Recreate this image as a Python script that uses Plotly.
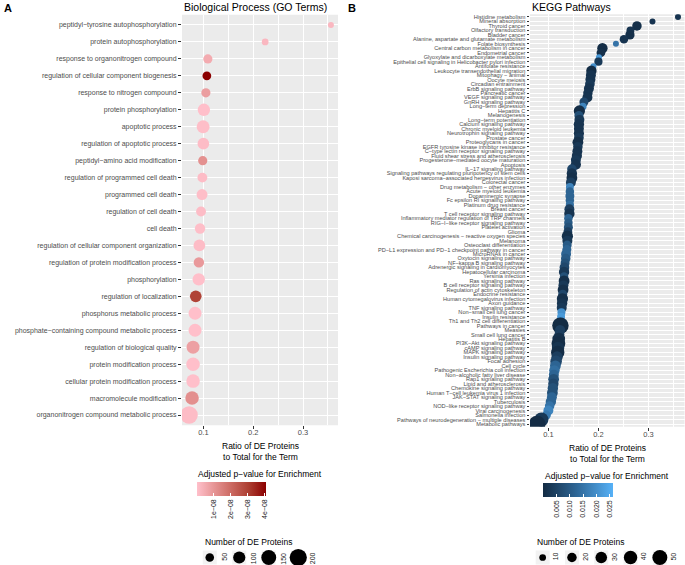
import plotly.graph_objects as go

W, H = 685, 565

# ---------------- Panel A data (GO Biological Process) ----------------
go_terms = [
    "peptidyl−tyrosine autophosphorylation",
    "protein autophosphorylation",
    "response to organonitrogen compound",
    "regulation of cellular component biogenesis",
    "response to nitrogen compound",
    "protein phosphorylation",
    "apoptotic process",
    "regulation of apoptotic process",
    "peptidyl−amino acid modification",
    "regulation of programmed cell death",
    "programmed cell death",
    "regulation of cell death",
    "cell death",
    "regulation of cellular component organization",
    "regulation of protein modification process",
    "phosphorylation",
    "regulation of localization",
    "phosphorus metabolic process",
    "phosphate−containing compound metabolic process",
    "regulation of biological quality",
    "protein modification process",
    "cellular protein modification process",
    "macromolecule modification",
    "organonitrogen compound metabolic process",
]
go_ratio = [0.356, 0.224, 0.109, 0.107, 0.105, 0.101, 0.0995, 0.100, 0.0987,
            0.098, 0.0973, 0.0953, 0.0933, 0.092, 0.091, 0.0907, 0.0847,
            0.0833, 0.0833, 0.0793, 0.0793, 0.0793, 0.0773, 0.0713]
go_count = [3, 31, 57, 52, 57, 103, 113, 92, 57, 65, 80, 65, 73, 92, 73, 103,
            92, 113, 113, 113, 123, 123, 123, 205]
go_padj = [0.2e-8, 0.2e-8, 0.5e-8, 4.1e-8, 0.8e-8, 0.02e-8, 0.05e-8, 0.1e-8,
           1.1e-8, 0.1e-8, 0.05e-8, 0.1e-8, 0.05e-8, 0.1e-8, 0.9e-8, 0.02e-8,
           2.95e-8, 0.02e-8, 0.02e-8, 0.75e-8, 0.02e-8, 0.02e-8, 1.15e-8, 0.1e-8]

# ---------------- Panel B data (KEGG) ----------------
kegg_terms = [
    "Histidine metabolism", "Mineral absorption", "Thyroid cancer",
    "Olfactory transduction", "Bladder cancer",
    "Alanine, aspartate and glutamate metabolism", "Folate biosynthesis",
    "Central carbon metabolism in cancer", "Endometrial cancer",
    "Glyoxylate and dicarboxylate metabolism",
    "Epithelial cell signaling in Helicobacter pylori infection",
    "Antifolate resistance", "Leukocyte transendothelial migration",
    "Mitophagy − animal", "Oocyte meiosis", "Circadian entrainment",
    "ErbB signaling pathway", "Pancreatic cancer", "VEGF signaling pathway",
    "GnRH signaling pathway", "Long−term depression", "Hepatitis C",
    "Melanogenesis", "Long−term potentiation", "Calcium signaling pathway",
    "Chronic myeloid leukemia", "Neurotrophin signaling pathway",
    "Prostate cancer", "Proteoglycans in cancer",
    "EGFR tyrosine kinase inhibitor resistance",
    "C−type lectin receptor signaling pathway",
    "Fluid shear stress and atherosclerosis",
    "Progesterone−mediated oocyte maturation", "Apoptosis",
    "IL−17 signaling pathway",
    "Signaling pathways regulating pluripotency of stem cells",
    "Kaposi sarcoma−associated herpesvirus infection", "Colorectal cancer",
    "Drug metabolism − other enzymes", "Acute myeloid leukemia",
    "Dopaminergic synapse", "Fc epsilon RI signaling pathway",
    "Platinum drug resistance", "Breast cancer",
    "T cell receptor signaling pathway",
    "Inflammatory mediator regulation of TRP channels",
    "RIG−I−like receptor signaling pathway", "Platelet activation", "Glioma",
    "Chemical carcinogenesis − reactive oxygen species", "Melanoma",
    "Osteoclast differentiation",
    "PD−L1 expression and PD−1 checkpoint pathway in cancer",
    "MicroRNAs in cancer", "Oxytocin signaling pathway",
    "NF−kappa B signaling pathway", "Adrenergic signaling in cardiomyocytes",
    "Hepatocellular carcinoma", "Yersinia infection", "Ras signaling pathway",
    "B cell receptor signaling pathway", "Regulation of actin cytoskeleton",
    "Endocrine resistance", "Human cytomegalovirus infection", "Axon guidance",
    "TNF signaling pathway", "Non−small cell lung cancer", "Insulin resistance",
    "Th1 and Th2 cell differentiation", "Pathways in cancer", "Measles",
    "Small cell lung cancer", "Hepatitis B", "PI3K−Akt signaling pathway",
    "cAMP signaling pathway", "MAPK signaling pathway",
    "Insulin signaling pathway", "Focal adhesion", "Cell cycle",
    "Pathogenic Escherichia coli infection",
    "Non−alcoholic fatty liver disease", "Rap1 signaling pathway",
    "Lipid and atherosclerosis", "Chemokine signaling pathway",
    "Human T−cell leukemia virus 1 infection", "JAK−STAT signaling pathway",
    "Tuberculosis", "NOD−like receptor signaling pathway",
    "Viral carcinogenesis", "Salmonella infection",
    "Pathways of neurodegeneration − multiple diseases", "Metabolic pathways",
]
kegg_ratio = [
    0.359, 0.308, 0.277, 0.264, 0.263, 0.251, 0.235, 0.208, 0.205, 0.201,
    0.200, 0.190, 0.186, 0.185, 0.184, 0.183, 0.181, 0.179, 0.178, 0.171,
    0.169, 0.162, 0.161, 0.162, 0.161, 0.161, 0.161, 0.161, 0.159, 0.159,
    0.158, 0.157, 0.155, 0.155, 0.147, 0.147, 0.147, 0.145, 0.143, 0.143,
    0.143, 0.143, 0.143, 0.142, 0.142, 0.140, 0.140, 0.140, 0.139, 0.138,
    0.138, 0.1376, 0.1369, 0.1354, 0.1347, 0.1334, 0.1321, 0.1314, 0.1314, 0.1314,
    0.1301, 0.1294, 0.1287, 0.1281, 0.1274, 0.1267, 0.1261, 0.1254, 0.1247, 0.1241,
    0.1234, 0.1221, 0.1207, 0.1201, 0.1194, 0.1187, 0.1174, 0.1154, 0.1141, 0.1121,
    0.1110, 0.1105, 0.1100, 0.1090, 0.1080, 0.1070, 0.1050, 0.1025, 0.1000, 0.0960,
    0.0860, 0.0775,
]
kegg_count = [
    3, 4, 20, 14, 19, 16, 3, 24, 17, 3,
    15, 3, 24, 22, 22, 21, 22, 20, 22, 18,
    12, 28, 18, 22, 24, 22, 23, 21, 26, 20,
    22, 23, 22, 23, 20, 24, 26, 22, 14, 16,
    18, 16, 15, 22, 24, 16, 16, 18, 17, 28,
    22, 18, 18, 22, 20, 18, 21, 24, 16, 26,
    22, 26, 18, 28, 24, 22, 14, 14, 16, 60,
    24, 22, 36, 42, 34, 40, 28, 30, 26, 24,
    22, 26, 24, 24, 26, 22, 24, 20, 22, 18,
    45, 62,
]
kegg_padj = [
    0.002, 0.002, 0.001, 0.002, 0.001, 0.002, 0.015, 0.0005, 0.001, 0.022,
    0.003, 0.020, 0.0005, 0.002, 0.002, 0.003, 0.002, 0.002, 0.002, 0.006,
    0.018, 0.0005, 0.008, 0.003, 0.002, 0.002, 0.002, 0.003, 0.001, 0.003,
    0.002, 0.002, 0.003, 0.002, 0.006, 0.002, 0.001, 0.004, 0.018, 0.012,
    0.012, 0.012, 0.014, 0.004, 0.002, 0.012, 0.010, 0.008, 0.004, 0.001,
    0.003, 0.010, 0.012, 0.012, 0.010, 0.008, 0.006, 0.003, 0.008, 0.001,
    0.003, 0.001, 0.006, 0.001, 0.002, 0.003, 0.020, 0.022, 0.018, 0.0002,
    0.004, 0.004, 0.001, 0.0005, 0.002, 0.0005, 0.004, 0.006, 0.012, 0.014,
    0.012, 0.008, 0.006, 0.008, 0.008, 0.012, 0.012, 0.015, 0.018, 0.016,
    0.003, 0.0003,
]

go_size_breaks = [50, 100, 150, 200]
kegg_size_breaks = [10, 20, 30, 40, 50]
go_p_ticks = [1e-8, 2e-8, 3e-8, 4e-8]
go_p_ticktext = ["1e−08", "2e−08", "3e−08", "4e−08"]
kegg_p_ticks = [0.005, 0.010, 0.015, 0.020, 0.025]
kegg_p_ticktext = ["0.005", "0.010", "0.015", "0.020", "0.025"]
ratio_ticks = [0.1, 0.2, 0.3]
ratio_ticktext = ["0.1", "0.2", "0.3"]

FONT = "Liberation Sans, Arial, sans-serif"
AXIS_GRAY = "#4D4D4D"
GO_SCALE = [[0, "#FFC0CB"], [0.25, "#E69494"], [0.5, "#CB6961"],
            [0.75, "#AC3E31"], [1, "#8B0000"]]
KEGG_SCALE = [[0, "#132B43"], [0.5, "#2F699A"], [1, "#56B1F7"]]
GO_SIZEREF = 1.35
KEGG_SIZEREF = 0.444


def fx(p):
    return p / W


def fy(p):
    return 1 - p / H


fig = go.Figure()

# Panel A points
fig.add_trace(go.Scatter(
    x=go_ratio, y=go_terms, mode="markers", xaxis="x", yaxis="y",
    marker=dict(size=go_count, sizemode="area", sizeref=GO_SIZEREF, sizemin=3,
                color=go_padj, coloraxis="coloraxis", opacity=1,
                line=dict(width=0)),
    showlegend=False, hoverinfo="skip"))

# Panel B points
fig.add_trace(go.Scatter(
    x=kegg_ratio, y=kegg_terms, mode="markers", xaxis="x2", yaxis="y2",
    marker=dict(size=kegg_count, sizemode="area", sizeref=KEGG_SIZEREF, sizemin=3,
                color=kegg_padj, coloraxis="coloraxis2", opacity=1,
                line=dict(width=0)),
    showlegend=False, hoverinfo="skip"))

# Size legends (drawn through the same size scales)
fig.add_trace(go.Scatter(
    x=list(range(len(go_size_breaks))), y=[0] * len(go_size_breaks),
    mode="markers", xaxis="x3", yaxis="y3",
    marker=dict(size=go_size_breaks, sizemode="area", sizeref=GO_SIZEREF,
                color="#000000", opacity=1, line=dict(width=0)),
    showlegend=False, hoverinfo="skip", cliponaxis=False))
fig.add_trace(go.Scatter(
    x=list(range(len(kegg_size_breaks))), y=[0] * len(kegg_size_breaks),
    mode="markers", xaxis="x4", yaxis="y4",
    marker=dict(size=kegg_size_breaks, sizemode="area", sizeref=KEGG_SIZEREF,
                color="#000000", opacity=1, line=dict(width=0)),
    showlegend=False, hoverinfo="skip", cliponaxis=False))

ax_common = dict(
    showline=False, zeroline=False, ticks="outside", ticklen=3,
    tickcolor="#333333", tickwidth=1, showgrid=True, gridcolor="white",
    automargin=False,
)

xA = dict(ax_common, domain=[fx(182), fx(338)], range=[0.0571, 0.3702],
          tickmode="array", tickvals=ratio_ticks, ticktext=ratio_ticktext,
          tickfont=dict(family=FONT, size=7.5, color=AXIS_GRAY), gridwidth=1.1,
          ticklabelstandoff=-3,
          minor=dict(dtick=0.05, tick0=0.05, showgrid=True, gridcolor="white",
                     gridwidth=0.5, ticks=""),
          anchor="y")
yA = dict(ax_common, domain=[fy(425.2), fy(14.8)], type="category",
          categoryorder="array", categoryarray=go_terms[::-1],
          range=[-0.6, len(go_terms) - 0.4], tickmode="array",
          tickvals=go_terms, ticktext=go_terms,
          tickfont=dict(family=FONT, size=7, color=AXIS_GRAY), gridwidth=1.1,
          anchor="x")
xB = dict(ax_common, domain=[fx(530), fx(684.5)], range=[0.0633, 0.372],
          tickmode="array", tickvals=ratio_ticks, ticktext=ratio_ticktext,
          tickfont=dict(family=FONT, size=7.5, color=AXIS_GRAY), gridwidth=1.1,
          ticklabelstandoff=-3,
          minor=dict(dtick=0.05, tick0=0.05, showgrid=True, gridcolor="white",
                     gridwidth=0.5, ticks=""),
          anchor="y2")
yB = dict(ax_common, domain=[fy(426.7), fy(14.3)], type="category",
          categoryorder="array", categoryarray=kegg_terms[::-1],
          range=[-0.6, len(kegg_terms) - 0.4], tickmode="array",
          tickvals=kegg_terms, ticktext=kegg_terms, ticklen=2.5,
          tickfont=dict(family=FONT, size=5.6, color=AXIS_GRAY), gridwidth=0.9,
          anchor="x2")

x3 = dict(domain=[fx(195), fx(313)], range=[-0.5, len(go_size_breaks) - 0.5],
          visible=False, anchor="y3", fixedrange=True)
y3 = dict(domain=[fy(565), fy(550)], range=[-1, 1], visible=False,
          anchor="x3", fixedrange=True)
x4 = dict(domain=[fx(528), fx(674.5)], range=[-0.5, len(kegg_size_breaks) - 0.5],
          visible=False, anchor="y4", fixedrange=True)
y4 = dict(domain=[fy(565), fy(550)], range=[-1, 1], visible=False,
          anchor="x4", fixedrange=True)

shapes = []
# panel backgrounds
for xr, yr in (("x", "y"), ("x2", "y2")):
    shapes.append(dict(type="rect", xref=xr + " domain", yref=yr + " domain",
                       x0=0, x1=1, y0=0, y1=1, fillcolor="#EBEBEB",
                       line=dict(width=0), layer="below"))
# legend key backgrounds
for i in range(len(go_size_breaks)):
    shapes.append(dict(type="rect", xref="x3", yref="paper",
                       x0=i - 7 / 29.5, x1=i + 7 / 29.5, y0=fy(564.5), y1=fy(550.5),
                       fillcolor="#F2F2F2", line=dict(width=0), layer="below"))
for i in range(len(kegg_size_breaks)):
    shapes.append(dict(type="rect", xref="x4", yref="paper",
                       x0=i - 7 / 29.3, x1=i + 7 / 29.3, y0=fy(564.5), y1=fy(550.5),
                       fillcolor="#F2F2F2", line=dict(width=0), layer="below"))

annotations = []


def ann(text, x, y, size, xanchor="left", yanchor="middle", color="black",
        xref="paper", angle=0, bold=False):
    annotations.append(dict(
        text=("<b>%s</b>" % text) if bold else text, x=x, y=y, xref=xref,
        yref="paper", xanchor=xanchor, yanchor=yanchor, showarrow=False,
        textangle=angle, font=dict(family=FONT, size=size, color=color)))


ann("A", fx(2), fy(8), 11, bold=True)
ann("B", fx(346), fy(8), 11, bold=True)
ann("Biological Process (GO Terms)", fx(182), fy(7), 10.5)
ann("KEGG Pathways", fx(530), fy(7), 10.5)
ann("Ratio of DE Proteins<br>to Total for the Term", fx(260), fy(451.5), 8.5,
    xanchor="center")
ann("Ratio of DE Proteins<br>to Total for the Term", fx(607), fy(453), 8.5,
    xanchor="center")
ann("Adjusted p−value for Enrichment", fx(196), fy(473.5), 8.5)
ann("Adjusted p−value for Enrichment", fx(543), fy(475.7), 8.5)
ann("Number of DE Proteins", fx(203), fy(542), 8.5)
ann("Number of DE Proteins", fx(535), fy(542), 8.5)
for i, v in enumerate(go_size_breaks):
    ann(str(v), i + 0.49, fy(550.5), 7, xanchor="center", yanchor="top",
        color="#1A1A1A", xref="x3", angle=-90)
for i, v in enumerate(kegg_size_breaks):
    ann(str(v), i + 0.45, fy(550.5), 7, xanchor="center", yanchor="top",
        color="#1A1A1A", xref="x4", angle=-90)

cb_common = dict(orientation="h", lenmode="pixels", thicknessmode="pixels",
                 thickness=14, xanchor="left", yanchor="top", xpad=0, ypad=0,
                 outlinewidth=0, ticks="inside", ticklen=3, tickcolor="white",
                 tickangle=-90,
                 tickfont=dict(family=FONT, size=7, color="#1A1A1A"))

fig.update_layout(
    width=W, height=H,
    margin=dict(l=0, r=0, t=0, b=0, pad=0, autoexpand=False),
    paper_bgcolor="white", plot_bgcolor="white",
    font=dict(family=FONT),
    xaxis=xA, yaxis=yA, xaxis2=xB, yaxis2=yB,
    xaxis3=x3, yaxis3=y3, xaxis4=x4, yaxis4=y4,
    coloraxis=dict(colorscale=GO_SCALE, cmin=0, cmax=4.1e-8,
                   colorbar=dict(cb_common, len=69, x=fx(197), y=fy(481.7),
                                 tickmode="array", tickvals=go_p_ticks,
                                 ticktext=go_p_ticktext)),
    coloraxis2=dict(colorscale=KEGG_SCALE, cmin=0, cmax=0.0262,
                    colorbar=dict(cb_common, len=70, x=fx(543), y=fy(483.3),
                                  tickmode="array", tickvals=kegg_p_ticks,
                                  ticktext=kegg_p_ticktext)),
    shapes=shapes, annotations=annotations,
)

fig.write_html(
    "out.html", config={"displayModeBar": False},
    post_script="document.body.style.margin='0';document.body.style.overflow='hidden';")
